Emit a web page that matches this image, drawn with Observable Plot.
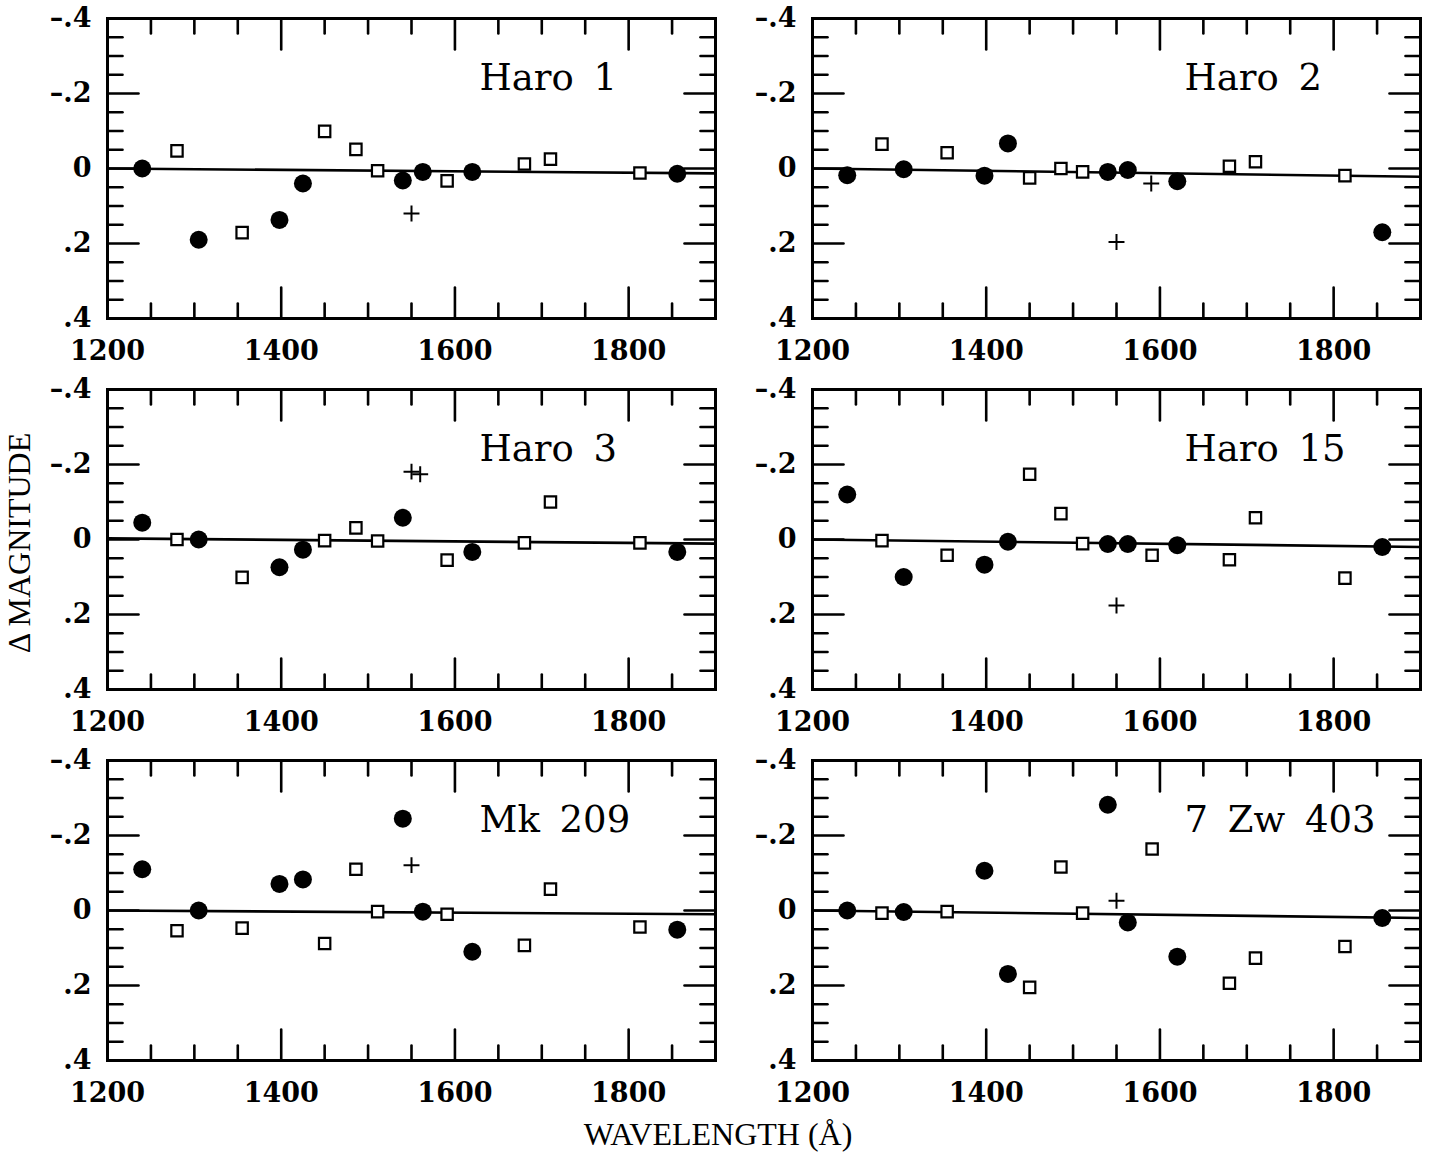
<!DOCTYPE html>
<html><head><meta charset="utf-8">
<script src="https://cdn.jsdelivr.net/npm/d3@7"></script>
<script src="https://cdn.jsdelivr.net/npm/@observablehq/plot@0.6"></script>
<style>
html,body{margin:0;padding:0;background:#fff;}
#chart{position:relative;width:1434px;height:1156px;}
</style></head><body><div id="chart"></div>
<script>
// ---- data ----
const panels = ["Haro 1", "Haro 2", "Haro 3", "Haro 15", "Mk 209", "7 Zw 403"];

const circleWavelengths = [1240, 1305, 1398, 1425, 1540, 1563, 1620, 1856];
const circleValues = [
  [0.0, 0.19, 0.137, 0.04, 0.032, 0.009, 0.009, 0.014],
  [0.018, 0.002, 0.019, -0.067, 0.009, 0.004, 0.034, 0.17],
  [-0.045, 0.0, 0.074, 0.027, -0.058, null, 0.033, 0.033],
  [-0.12, 0.1, 0.067, 0.006, 0.012, 0.012, 0.015, 0.02],
  [-0.11, 0.0, -0.071, -0.083, -0.245, 0.003, 0.11, 0.051],
  [0.0, 0.004, -0.106, 0.169, -0.282, 0.032, 0.123, 0.02]
];

const squareWavelengths = [1280, 1355, 1450, 1486, 1511, 1591, 1680, 1710, 1813];
const squareValues = [
  [-0.047, 0.171, -0.099, -0.051, 0.006, 0.033, -0.012, -0.025, 0.012],
  [-0.065, -0.042, 0.025, 0.0, 0.009, null, -0.006, -0.018, 0.019],
  [0.0, 0.101, 0.003, -0.031, 0.004, 0.055, 0.009, -0.1, 0.009],
  [0.003, 0.042, -0.174, -0.069, 0.011, 0.042, 0.054, -0.058, 0.103],
  [0.054, 0.047, 0.088, -0.11, 0.003, 0.01, 0.093, -0.057, 0.044],
  [0.007, 0.003, 0.205, -0.116, 0.007, -0.164, 0.194, 0.127, 0.096]
];

const plusWavelengths = [[1550], [1550, 1590], [1550, 1560], [1550], [1550], [1550]];
const plusValues = [[0.12], [0.196, 0.04], [-0.181, -0.174], [0.176], [-0.121], [-0.026]];

// fitted line: value at 1200 Å and at 1900 Å
const fitWavelengths = [1200, 1900];
const fitStart = [0, 0, -0.003, 0, 0, 0];
const fitEnd = [0.013, 0.022, 0.011, 0.02, 0.01, 0.02];

// axes
const xDomain = [1200, 1900];
const yDomain = [-0.4, 0.4];
const xTickLabels = [1200, 1400, 1600, 1800];
const xMajorTicks = [1400, 1600, 1800];
const xMinorTicks = [1250, 1300, 1350, 1450, 1500, 1550, 1650, 1700, 1750, 1850];
const yTicks = [-0.4, -0.2, 0, 0.2, 0.4];
const yTickLabels = ["\u2013.4", "\u2013.2", "0", ".2", ".4"];
const yMajorTicks = [-0.2, 0, 0.2];
const yMinorTicks = [-0.35, -0.3, -0.25, -0.15, -0.1, -0.05, 0.05, 0.1, 0.15, 0.25, 0.3, 0.35];
const xTitle = "WAVELENGTH (\u00C5)";
const yTitle = "\u0394 MAGNITUDE";

// ---- tables ----
const cell = i => ({panel: panels[i], col: i % 2, row: Math.floor(i / 2)});
const circles = [], squares = [], pluses = [], fits = [], labels = [];
panels.forEach((p, i) => {
  circleWavelengths.forEach((w, j) => { const v = circleValues[i][j]; if (v != null) circles.push({...cell(i), wavelength: w, delta: v}); });
  squareWavelengths.forEach((w, j) => { const v = squareValues[i][j]; if (v != null) squares.push({...cell(i), wavelength: w, delta: v}); });
  plusWavelengths[i].forEach((w, j) => pluses.push({...cell(i), wavelength: w, delta: plusValues[i][j]}));
  fits.push({...cell(i), wavelength: fitWavelengths[0], delta: fitStart[i]});
  fits.push({...cell(i), wavelength: fitWavelengths[1], delta: fitEnd[i]});
  labels.push(cell(i));
});

const tickShape = {draw(ctx, l) { ctx.moveTo(0, 0); ctx.lineTo(0, -l); }};
const MAJ = 31, MIN = 15, TW = 2.6;
const tickMarks = (ticks, len) => [
  Plot.vector(ticks, {x: d => d, frameAnchor: "bottom", anchor: "start", rotate: 0, length: len, shape: tickShape, stroke: "black", strokeWidth: TW}),
  Plot.vector(ticks, {x: d => d, frameAnchor: "top", anchor: "start", rotate: 180, length: len, shape: tickShape, stroke: "black", strokeWidth: TW})
];
const tickMarksY = (ticks, len) => [
  Plot.vector(ticks, {y: d => d, frameAnchor: "left", anchor: "start", rotate: 90, length: len, shape: tickShape, stroke: "black", strokeWidth: TW}),
  Plot.vector(ticks, {y: d => d, frameAnchor: "right", anchor: "start", rotate: -90, length: len, shape: tickShape, stroke: "black", strokeWidth: TW})
];

const chart = Plot.plot({
  width: 1434,
  height: 1156,
  marginLeft: 107,
  marginRight: 14,
  marginTop: 18,
  marginBottom: 96,
  style: {fontFamily: "DejaVu Serif", fontSize: "27px", fontWeight: "bold", background: "white", color: "black"},
  fx: {axis: null, paddingInner: 0.1376, paddingOuter: 0},
  fy: {axis: null, paddingInner: 0.1914, paddingOuter: 0},
  x: {domain: xDomain},
  y: {domain: yDomain, reverse: true},
  marks: [
    ...tickMarks(xMajorTicks, MAJ),
    ...tickMarks(xMinorTicks, MIN),
    ...tickMarksY(yMajorTicks, MAJ),
    ...tickMarksY(yMinorTicks, MIN),
    Plot.frame({stroke: "black", strokeWidth: 3}),
    Plot.axisX(xTickLabels, {anchor: "bottom", tickSize: 0, tickPadding: 22, facetAnchor: null, label: null,
      tickFormat: d => String(d), fontSize: 27, fontWeight: "bold", fontFamily: "DejaVu Serif"}),
    Plot.axisY(yTicks, {anchor: "left", tickSize: 0, tickPadding: 16, facetAnchor: null, label: null,
      tickFormat: d => yTickLabels[yTicks.indexOf(d)], fontSize: 27, fontWeight: "bold", fontFamily: "DejaVu Serif"}),
    Plot.line(fits, {x: "wavelength", y: "delta", z: "panel", fx: "col", fy: "row", stroke: "black", strokeWidth: 2.6}),
    Plot.dot(squares, {x: "wavelength", y: "delta", fx: "col", fy: "row", symbol: "square", r: 6.4, fill: "white", stroke: "black", strokeWidth: 2.2}),
    Plot.dot(circles, {x: "wavelength", y: "delta", fx: "col", fy: "row", r: 9, fill: "black", stroke: "none"}),
    Plot.dot(pluses, {x: "wavelength", y: "delta", fx: "col", fy: "row", symbol: "plus", r: 5.2, stroke: "black", strokeWidth: 2}),
    Plot.text(labels, {fx: "col", fy: "row", text: "panel", frameAnchor: "top-left", textAnchor: "start", lineAnchor: "middle",
      dx: 372, dy: 60, fontSize: 37, fontWeight: "normal", fontFamily: "DejaVu Serif"})
  ]
});

const svg = d3.select(chart);
svg.selectAll('g[aria-label="text"] text').style("word-spacing", "8px");
svg.append("text")
  .attr("x", 718).attr("y", 1138)
  .attr("text-anchor", "middle").attr("dominant-baseline", "middle")
  .attr("font-family", "Liberation Serif").attr("font-size", 32).attr("font-weight", "normal")
  .attr("fill", "black")
  .text(xTitle);
svg.append("text")
  .attr("transform", "translate(23,543) rotate(-90)")
  .attr("text-anchor", "middle").attr("dominant-baseline", "middle")
  .attr("font-family", "Liberation Serif").attr("font-size", 32).attr("font-weight", "normal")
  .attr("fill", "black")
  .text(yTitle);

document.getElementById("chart").appendChild(chart);
</script></body></html>
